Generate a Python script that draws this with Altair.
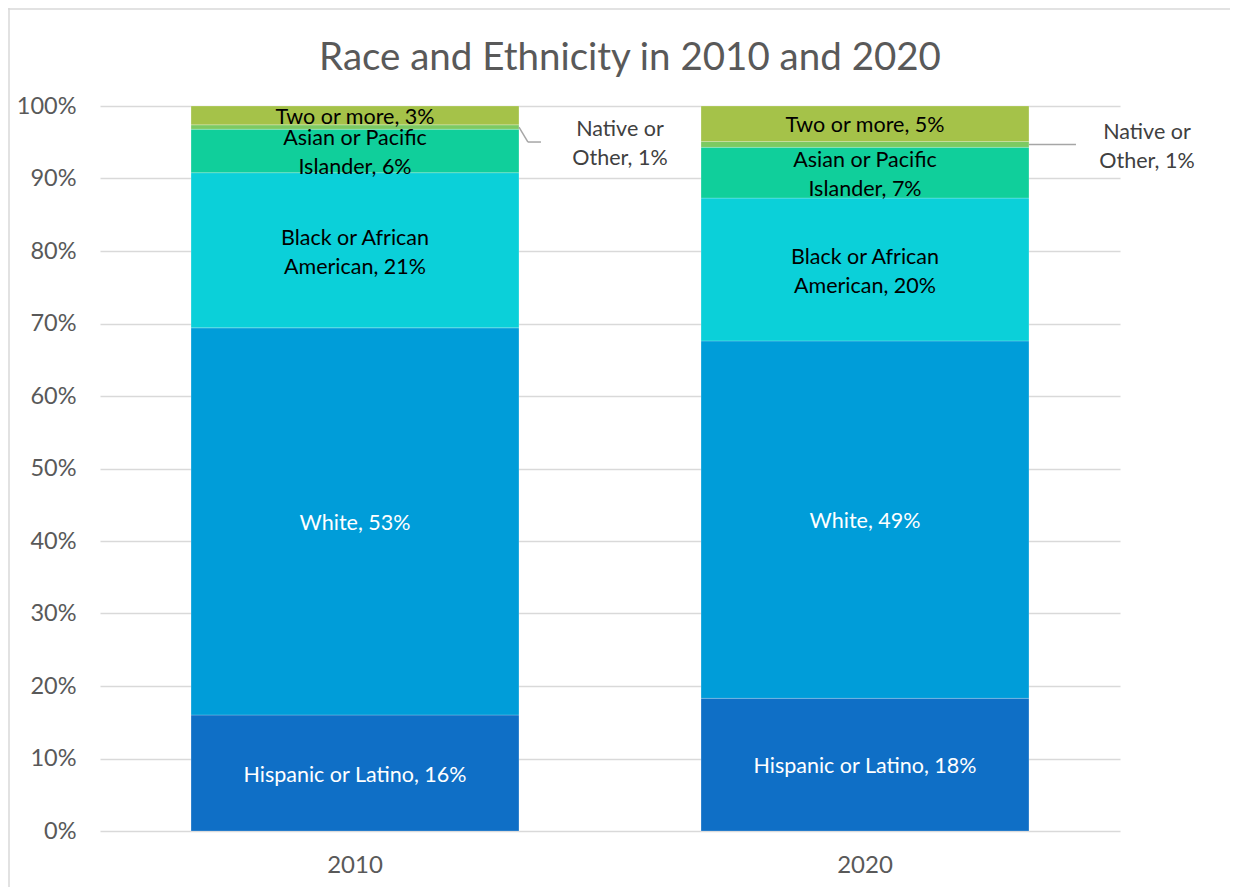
import altair as alt
import pandas as pd

years = ["2010", "2020"]
groups = ["Hispanic or Latino", "White", "Black or African American",
          "Asian or Pacific Islander", "Native or Other", "Two or more"]
label_names = ["Hispanic or Latino", "White", "Black or African\nAmerican",
               "Asian or Pacific\nIslander", "Native or\nOther", "Two or more"]
values_2010 = [16.0, 53.4, 21.4, 6.0, 0.6, 2.6]
values_2020 = [18.3, 49.3, 19.7, 7.0, 0.8, 4.9]
y_ticks = [0, 10, 20, 30, 40, 50, 60, 70, 80, 90, 100]

colors = ["#0F6FC6", "#009DD9", "#0BD0D9", "#10CF9B", "#7CCA62", "#A5C249"]
text_colors = ["#FFFFFF", "#FFFFFF", "#000000", "#000000", "#404040", "#000000"]

FONT = "Lato"
GRID = "#D9D9D9"
AXIS_TXT = "#595959"
LBL = 21.5

rows = []
for year, vals in zip(years, [values_2010, values_2020]):
    for i, (g, ln, v) in enumerate(zip(groups, label_names, vals)):
        rows.append({"year": year, "group": g, "idx": i, "value": v,
                     "label": f"{ln}, {round(v):d}%", "tcolor": text_colors[i]})
df = pd.DataFrame(rows)

base = alt.Chart(df).transform_stack(
    stack="value", as_=["y0", "y1"], groupby=["year"],
    sort=[alt.SortField("idx", order="ascending")]
).transform_calculate(mid="(datum.y0 + datum.y1) / 2")

x_scale = alt.Scale(domain=years, paddingInner=0.357, paddingOuter=0.1785)
x_axis = alt.Axis(domain=False, ticks=False, labelFont=FONT, labelFontSize=24,
                  labelColor=AXIS_TXT, labelPadding=22, labelAngle=0, title=None)
y_scale = alt.Scale(domain=[0, 100], nice=False)
y_axis = alt.Axis(values=y_ticks, labelExpr="datum.value + '%'", domain=False,
                  ticks=False, grid=True, gridColor=GRID, gridWidth=1.3,
                  labelFont=FONT, labelFontSize=23.5, labelColor=AXIS_TXT,
                  labelPadding=24, title=None)


def X(**kw):
    return alt.X("year:N", scale=x_scale, axis=x_axis, title=None, **kw)


def Y(field):
    return alt.Y(field, scale=y_scale, axis=y_axis, title=None)


bars = base.mark_bar(stroke="#FFFFFF", strokeWidth=0.6, strokeOpacity=0.35).encode(
    x=X(),
    y=Y("y0:Q"),
    y2="y1:Q",
    color=alt.Color("group:N", scale=alt.Scale(domain=groups, range=colors), legend=None),
)

inbar_src = base.transform_filter("datum.group != 'Native or Other'")


def inbar_text(src, dy):
    return src.mark_text(
        font=FONT, fontSize=LBL, lineBreak="\n", lineHeight=29, baseline="middle",
        align="center", dy=dy
    ).encode(x=X(), y=Y("mid:Q"), text="label:N", color=alt.Color("tcolor:N", scale=None))


inbar_single = inbar_text(inbar_src.transform_filter("indexof(datum.label, '\\n') < 0"), 2.5)
inbar_multi = inbar_text(inbar_src.transform_filter("indexof(datum.label, '\\n') >= 0"), -11.5)

native = base.transform_filter("datum.group == 'Native or Other'")
nat_2010 = native.transform_filter("datum.year == '2010'")
nat_2020 = native.transform_filter("datum.year == '2020'")


def native_label(src, dx, dy):
    return src.mark_text(font=FONT, fontSize=LBL, lineBreak="\n", lineHeight=29,
                         baseline="middle", align="center", dx=dx, dy=dy,
                         color="#404040").encode(x=X(), y=Y("mid:Q"), text="label:N")


lead_col = "#A6A6A6"
lead_a = nat_2010.mark_rule(color=lead_col, strokeWidth=1.5, x2Offset=9, y2Offset=15).encode(
    x=X(bandPosition=1), x2=alt.X2("year:N", bandPosition=1),
    y=Y("mid:Q"), y2="mid:Q")
lead_b = nat_2010.mark_rule(color=lead_col, strokeWidth=1.5, xOffset=9, x2Offset=22,
                            yOffset=15).encode(
    x=X(bandPosition=1), x2=alt.X2("year:N", bandPosition=1), y=Y("mid:Q"))
lead_c = nat_2020.mark_rule(color=lead_col, strokeWidth=1.5, x2Offset=47).encode(
    x=X(bandPosition=1), x2=alt.X2("year:N", bandPosition=1), y=Y("mid:Q"))

title_df = pd.DataFrame({"t": ["Race and Ethnicity in 2010 and 2020"]})
title = alt.Chart(title_df).mark_text(font=FONT, fontSize=38.5, color=AXIS_TXT,
                                      baseline="middle", align="center").encode(
    text="t:N", x=alt.value(530), y=alt.value(-48))

frame_l = alt.Chart(title_df).mark_rule(color=GRID, strokeWidth=1.5).encode(
    x=alt.value(-91), y=alt.value(-98), y2=alt.value(790))
frame_t = alt.Chart(title_df).mark_rule(color=GRID, strokeWidth=1.5).encode(
    x=alt.value(-92), x2=alt.value(1140), y=alt.value(-97))

chart = alt.layer(
    bars, inbar_single, inbar_multi,
    native_label(nat_2010, 265, 3), native_label(nat_2020, 282, -11),
    lead_a, lead_b, lead_c, title, frame_l, frame_t
).properties(
    width=1020, height=725,
    autosize=alt.AutoSizeParams(type="none"),
    padding={"left": 92, "top": 98, "right": 110, "bottom": 56},
).configure(background="#FFFFFF").configure_view(strokeWidth=0)

chart.save("out.html", embed_options={"renderer": "svg", "actions": False})
